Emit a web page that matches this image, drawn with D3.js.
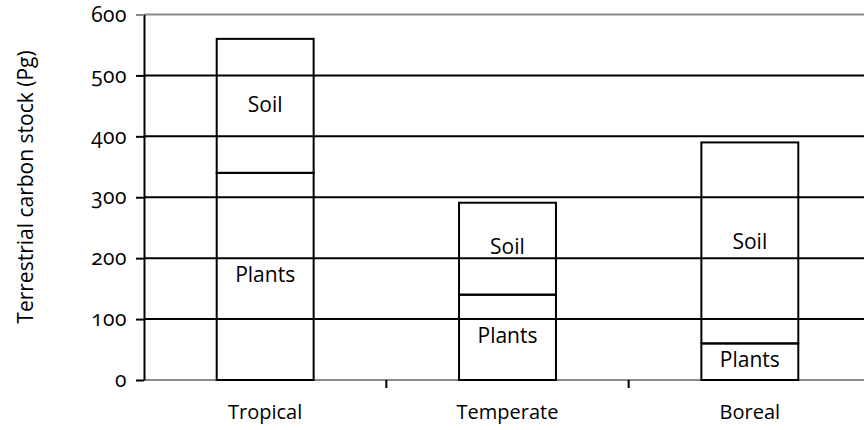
<!DOCTYPE html>
<html>
<head>
<meta charset="utf-8">
<script src="https://cdn.jsdelivr.net/npm/d3@7"></script>
<style>
    body { margin: 0; background: #fff; }
    text { font-family: "Open Sans", "Noto Sans", sans-serif; fill: #000; }
    .num { font-variant-numeric: oldstyle-nums; font-feature-settings: "onum"; }
</style>
</head>
<body>
<script>
// biome names and carbon stocks (Pg)
var biomes = ["Tropical", "Temperate", "Boreal"]
var plants = [340, 140, 60]
var soil = [220, 151, 330]
var yTicks = [0, 100, 200, 300, 400, 500, 600]

var width = 864,
    height = 430;

var svg = d3.select("body").append("svg")
    .attr("width", width)
    .attr("height", height);

var y = d3.scaleLinear().domain([0, 600]).range([380, 14.5])
var x = d3.scaleBand().domain(biomes).range([144, 871])

// horizontal lines: top and baseline grey, the rest black
svg.append("g")
    .selectAll("line")
    .data(yTicks)
    .enter()
    .append("line")
    .attr("x1", 144)
    .attr("x2", width)
    .attr("y1", d => y(d))
    .attr("y2", d => y(d))
    .attr("stroke", d => (d == 0 || d == 600) ? "#8a8a8a" : "#000")
    .attr("stroke-width", 2)

// y axis
var yAxis = d3.axisLeft(y)
    .tickValues(yTicks)
    .tickSize(8)
    .tickPadding(9)
    .tickSizeOuter(0)
var gy = svg.append("g")
    .attr("transform", "translate(144,0)")
    .call(yAxis)
gy.select(".domain").attr("stroke", "#000").attr("stroke-width", 2)
gy.selectAll(".tick line").attr("stroke-width", 2)
    .attr("stroke", d => d == 600 ? "#8a8a8a" : "#000")
gy.selectAll(".tick text")
    .attr("class", "num")
    .style("font-size", "21px")
    .style("letter-spacing", "0.5px")

// x axis ticks between categories
svg.append("g")
    .selectAll("line")
    .data(biomes.slice(1))
    .enter()
    .append("line")
    .attr("x1", d => x(d))
    .attr("x2", d => x(d))
    .attr("y1", y(0))
    .attr("y2", y(0) + 8)
    .attr("stroke", "#000")
    .attr("stroke-width", 2)

svg.append("g")
    .selectAll("text")
    .data(biomes)
    .enter()
    .append("text")
    .attr("x", d => x(d) + x.bandwidth() / 2)
    .attr("y", 414)
    .attr("text-anchor", "middle")
    .attr("dominant-baseline", "middle")
    .style("font-size", "20px")
    .text(d => d)

// stacked outline bars
var barW = x.bandwidth() * 0.4
var segs = []
biomes.forEach(function (b, i) {
    segs.push({ biome: b, name: "Plants", y0: 0, y1: plants[i] })
    segs.push({ biome: b, name: "Soil", y0: plants[i], y1: plants[i] + soil[i] })
})

var bars = svg.append("g")
bars.selectAll("rect")
    .data(segs)
    .enter()
    .append("rect")
    .attr("x", d => x(d.biome) + (x.bandwidth() - barW) / 2)
    .attr("width", barW)
    .attr("y", d => y(d.y1))
    .attr("height", d => y(d.y0) - y(d.y1))
    .attr("fill", "none")
    .attr("stroke", "#000")
    .attr("stroke-width", 2)

bars.selectAll("text")
    .data(segs)
    .enter()
    .append("text")
    .attr("x", d => x(d.biome) + x.bandwidth() / 2)
    .attr("y", d => y((d.y0 + d.y1) / 2))
    .attr("text-anchor", "middle")
    .attr("dominant-baseline", "middle")
    .style("font-size", "21px")
    .text(d => d.name)

// y axis title
svg.append("text")
    .attr("transform", "translate(27,187) rotate(-90)")
    .attr("text-anchor", "middle")
    .attr("dominant-baseline", "middle")
    .style("font-size", "21px")
    .text("Terrestrial carbon stock (Pg)")
</script>
</body>
</html>
